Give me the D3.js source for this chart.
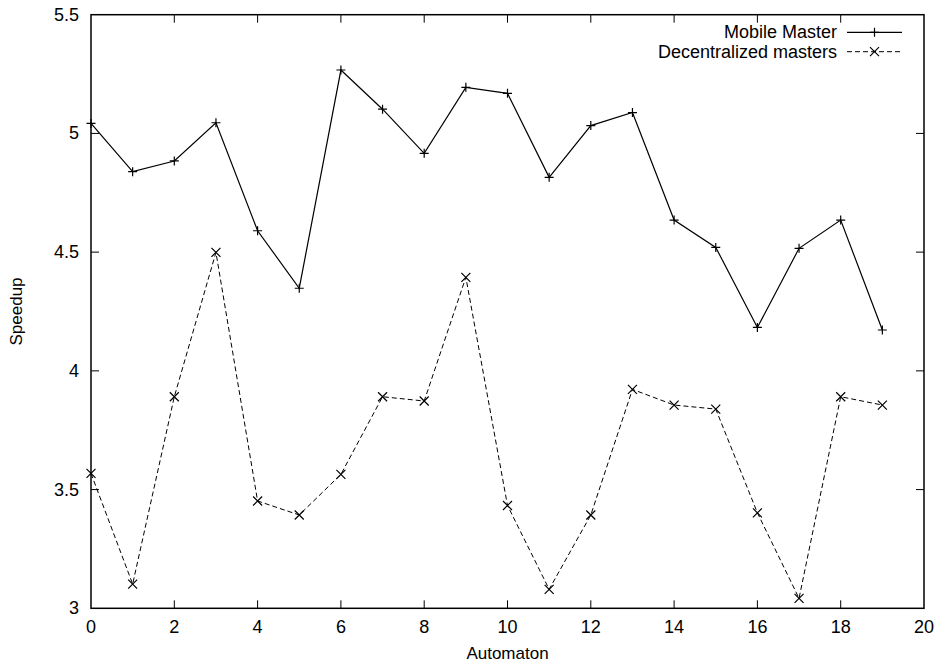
<!DOCTYPE html>
<meta charset="utf-8">
<style>
body { margin: 0; background: #fff; }
text { font-family: "Liberation Sans", Arial, sans-serif; fill: #000; }
.frame { fill: none; stroke: #000; stroke-width: 1.5px; }
.tick { stroke: #000; stroke-width: 1px; }
</style>
<body><svg width="943" height="664"></svg></body>
<script src="https://d3js.org/d3.v7.min.js"></script>
<script>

var automaton = d3.range(0, 20);
var mobileMaster = [5.042, 4.839, 4.884, 5.045, 4.590, 4.348, 5.267, 5.102, 4.916, 5.194,
                    5.169, 4.815, 5.033, 5.088, 4.635, 4.520, 4.183, 4.516, 4.635, 4.172];
var decentralized = [3.568, 3.102, 3.891, 4.499, 3.452, 3.393, 3.564, 3.891, 3.873, 4.394,
                     3.433, 3.080, 3.393, 3.922, 3.856, 3.839, 3.402, 3.042, 3.891, 3.856];
var xTicks = d3.range(0, 21, 2);
var yTicks = [3, 3.5, 4, 4.5, 5, 5.5];
var seriesNames = ["Mobile Master", "Decentralized masters"];

var svg = d3.select("svg");

var pLeft = 91, pRight = 924, pTop = 14.7, pBottom = 608.3;

var x = d3.scaleLinear().domain([0, 20]).range([pLeft, pRight]);
var y = d3.scaleLinear().domain([3, 5.5]).range([pBottom, pTop]);

var tickLen = 8;

// ticks, mirrored on all sides like gnuplot
xTicks.forEach(function(t) {
  if (t > 0 && t < 20) {
    svg.append("line").attr("class", "tick")
      .attr("x1", x(t)).attr("x2", x(t)).attr("y1", pBottom).attr("y2", pBottom - tickLen);
    svg.append("line").attr("class", "tick")
      .attr("x1", x(t)).attr("x2", x(t)).attr("y1", pTop).attr("y2", pTop + tickLen);
  }
  svg.append("text")
    .attr("x", x(t)).attr("y", pBottom + 19)
    .attr("text-anchor", "middle").attr("dominant-baseline", "central")
    .style("font-size", "18px")
    .text(t);
});

yTicks.forEach(function(t) {
  if (t > 3 && t < 5.5) {
    svg.append("line").attr("class", "tick")
      .attr("x1", pLeft).attr("x2", pLeft + tickLen).attr("y1", y(t)).attr("y2", y(t));
    svg.append("line").attr("class", "tick")
      .attr("x1", pRight).attr("x2", pRight - tickLen).attr("y1", y(t)).attr("y2", y(t));
  }
  svg.append("text")
    .attr("x", pLeft - 12).attr("y", y(t))
    .attr("text-anchor", "end").attr("dominant-baseline", "central")
    .style("font-size", "18px")
    .text(t);
});

svg.append("rect").attr("class", "frame")
  .attr("x", pLeft).attr("y", pTop)
  .attr("width", pRight - pLeft).attr("height", pBottom - pTop);

svg.append("text")
  .attr("x", (pLeft + pRight) / 2).attr("y", 653)
  .attr("text-anchor", "middle").attr("dominant-baseline", "central")
  .style("font-size", "17px")
  .text("Automaton");

svg.append("text")
  .attr("transform", "translate(16," + ((pTop + pBottom) / 2) + ") rotate(-90)")
  .attr("text-anchor", "middle").attr("dominant-baseline", "central")
  .style("font-size", "17px")
  .text("Speedup");

var line = d3.line()
  .x(function(d, i) { return x(automaton[i]); })
  .y(function(d) { return y(d); });

function plus(g, cx, cy) {
  g.append("path")
    .attr("d", "M" + (cx - 4.5) + "," + cy + "H" + (cx + 4.5) + "M" + cx + "," + (cy - 4.5) + "V" + (cy + 4.5))
    .attr("stroke", "#000").attr("stroke-width", 1.2).attr("fill", "none");
}
function cross(g, cx, cy) {
  var s = 4.5;
  g.append("path")
    .attr("d", "M" + (cx - s) + "," + (cy - s) + "L" + (cx + s) + "," + (cy + s) +
               "M" + (cx - s) + "," + (cy + s) + "L" + (cx + s) + "," + (cy - s))
    .attr("stroke", "#000").attr("stroke-width", 1.2).attr("fill", "none");
}

var g1 = svg.append("g");
g1.append("path").datum(mobileMaster)
  .attr("d", line).attr("fill", "none").attr("stroke", "#000").attr("stroke-width", 1.2);
mobileMaster.forEach(function(d, i) { plus(g1, x(automaton[i]), y(d)); });

var g2 = svg.append("g");
g2.append("path").datum(decentralized)
  .attr("d", line).attr("fill", "none").attr("stroke", "#000").attr("stroke-width", 1)
  .attr("stroke-dasharray", "5,3");
decentralized.forEach(function(d, i) { cross(g2, x(automaton[i]), y(d)); });

// legend
var legY = [32.3, 51.7];
var lx1 = 847, lx2 = 902;
seriesNames.forEach(function(name, i) {
  svg.append("text")
    .attr("x", 837).attr("y", legY[i])
    .attr("text-anchor", "end").attr("dominant-baseline", "central")
    .style("font-size", "18px")
    .text(name);
  var l = svg.append("line")
    .attr("x1", lx1).attr("x2", lx2).attr("y1", legY[i]).attr("y2", legY[i])
    .attr("stroke", "#000").attr("stroke-width", i === 0 ? 1.2 : 1);
  if (i === 1) l.attr("stroke-dasharray", "5,3");
  if (i === 0) plus(svg, (lx1 + lx2) / 2, legY[i]);
  else cross(svg, (lx1 + lx2) / 2, legY[i]);
});

</script>
